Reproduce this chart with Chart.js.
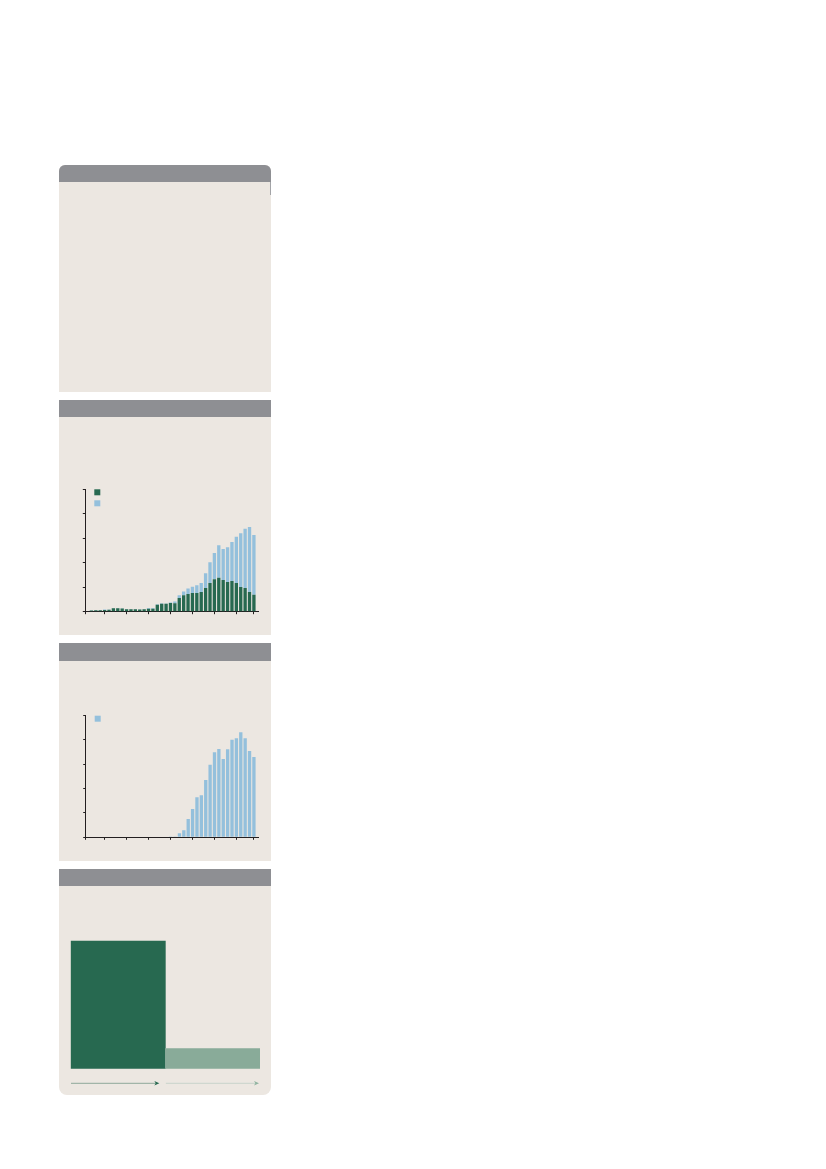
<!DOCTYPE html>
<html>
<head>
<meta charset="utf-8">
<script src="https://cdn.jsdelivr.net/npm/chart.js@4.4.1/dist/chart.umd.min.js"></script>
<style>
html,body{margin:0;padding:0;background:#ffffff;}
body{width:826px;height:1169px;position:relative;overflow:hidden;font-family:"Noto Sans",sans-serif;}
.panel{position:absolute;left:59px;width:212px;background:#ece7e1;overflow:hidden;}
.head{position:absolute;left:0;top:0;width:100%;height:17.3px;background:#8e8f93;}
.box{position:absolute;}
.box canvas{display:block;}
</style>
</head>
<body>
<div class="panel" style="top:165px;height:226.7px;border-radius:6px 6px 0 0;"><div class="head"></div></div>
<div style="position:absolute;left:270px;top:182px;width:1.3px;height:13px;background:#a3a4a7;"></div>
<div class="panel" style="top:400px;height:235px;"><div class="head"></div></div>
<div class="panel" style="top:643.3px;height:217.4px;"><div class="head"></div></div>
<div class="panel" style="top:869px;height:226px;border-radius:0 0 8px 8px;"><div class="head"></div></div>

<div class="box" style="left:59px;top:417px;width:212px;height:218px;"><canvas id="c1"></canvas></div>
<div class="box" style="left:59px;top:661px;width:212px;height:200px;"><canvas id="c2"></canvas></div>
<div class="box" style="left:59px;top:886px;width:212px;height:209px;"><canvas id="c3"></canvas></div>

<script>
// ---------- DATA ----------
const years = [1977,1978,1979,1980,1981,1982,1983,1984,1985,1986,1987,1988,1989,1990,1991,1992,1993,1994,1995,1996,1997,1998,1999,2000,2001,2002,2003,2004,2005,2006,2007,2008,2009,2010,2011,2012,2013,2014];
const tickYears = [1980,1985,1990,1995,2000,2005,2010,2014];

// chart 1: two stacked series
const chart1Green = [2.5,3,3,3.5,4,7,7,6.5,5,5,5,4.5,5,6,6,14,16,16,18,17.5,28,33.5,36,38,38,40,48.5,58.5,66.5,69.5,64.5,60.5,62.5,58.5,50.5,48.5,40,34.5];
const chart1Blue  = [0.5,0.5,0.5,1,0.5,0.5,0.5,0.5,0.5,0.5,0.5,0.5,0.5,1.5,1.5,1,1.5,1,1,3.5,5.5,8,11.5,13,16,18.5,30,42.5,53.5,66,63.5,71,80,94.5,109.5,121,133,122];

// chart 2: one series
const chart2Blue = [0,0,0,0,0,0,0,0,0,0,0,0,0,0,0,0,0,0,1.4,1.4,8.2,14.3,37.6,58.1,82,86,117.5,148.9,174.2,181,160.5,180.3,200.1,202.9,215.1,202.9,177,164.6];

const yTicksMax = 250;
const yTicksStep = 50;

// chart 3: two blocks
const chart3Categories = ['A','B'];
const chart3Values = [100, 15.7];

// ---------- STYLE ----------
const GREEN = '#276950';
const BLUE = '#94c0dc';
const AXIS = '#231f20';

const legendKeys = {
  id: 'legendKeys',
  afterDraw(chart, args, opts) {
    const ctx = chart.ctx;
    const {left, top} = chart.chartArea;
    ctx.save();
    chart.data.datasets.forEach((ds, i) => {
      ctx.fillStyle = ds.backgroundColor;
      ctx.fillRect(left + opts.dx, top + opts.dy + i * opts.step, opts.size, opts.size);
    });
    ctx.restore();
  }
};

const arrows = {
  id: 'arrows',
  afterDatasetsDraw(chart, args, opts) {
    const ctx = chart.ctx;
    const meta = chart.getDatasetMeta(0);
    const y = chart.chartArea.bottom + opts.offset;
    ctx.save();
    meta.data.forEach((bar, i) => {
      const x0 = bar.x - bar.width / 2 + opts.startInset[i];
      const x1 = bar.x + bar.width / 2 - opts.endInset[i];
      ctx.strokeStyle = opts.lineColors[i];
      ctx.lineWidth = 1;
      ctx.beginPath();
      ctx.moveTo(x0, y);
      ctx.lineTo(x1 - 3, y);
      ctx.stroke();
      ctx.fillStyle = opts.headColors[i];
      ctx.beginPath();
      ctx.moveTo(x1, y);
      ctx.lineTo(x1 - 5, y - 2.3);
      ctx.lineTo(x1 - 3.6, y);
      ctx.lineTo(x1 - 5, y + 2.3);
      ctx.closePath();
      ctx.fill();
    });
    ctx.restore();
  }
};

function toPoints(vals) { return years.map((yr, i) => ({x: yr, y: vals[i]})); }

function timeAxes() {
  return {
    x: {
      type: 'linear', min: 1975.6, max: 2015, offset: false, stacked: true,
      grid: { display: true, drawOnChartArea: false, drawTicks: true, tickLength: 2.5, tickColor: AXIS, offset: false, lineWidth: 1 },
      border: { display: true, color: AXIS, width: 1 },
      ticks: { display: false },
      afterBuildTicks: (s) => { s.ticks = [s.min, ...tickYears].map(v => ({value: v})); }
    },
    y: {
      min: 0, max: yTicksMax, stacked: true,
      grid: { display: true, drawOnChartArea: false, drawTicks: true, tickLength: 2.5, tickColor: AXIS, lineWidth: 1 },
      border: { display: true, color: AXIS, width: 1 },
      ticks: { display: false, stepSize: yTicksStep }
    }
  };
}

const common = {
  responsive: true, maintainAspectRatio: false, animation: false,
  events: [],
  plugins: { legend: { display: false }, tooltip: { enabled: false } }
};

new Chart(document.getElementById('c1'), {
  type: 'bar',
  data: {
    datasets: [
      { label: 'Series A', data: toPoints(chart1Green), backgroundColor: GREEN, borderWidth: 0, barPercentage: 0.76, categoryPercentage: 1 },
      { label: 'Series B', data: toPoints(chart1Blue), backgroundColor: BLUE, borderWidth: 0, barPercentage: 0.76, categoryPercentage: 1 }
    ]
  },
  options: Object.assign({}, common, {
    layout: { padding: { left: 23.8, top: 72.3, right: 12.7, bottom: 20.8 } },
    scales: timeAxes(),
    plugins: Object.assign({}, common.plugins, { legendKeys: { dx: 9, dy: 0, step: 11, size: 6 } })
  }),
  plugins: [legendKeys]
});

new Chart(document.getElementById('c2'), {
  type: 'bar',
  data: {
    datasets: [
      { label: 'Series B', data: toPoints(chart2Blue), backgroundColor: BLUE, borderWidth: 0, barPercentage: 0.76, categoryPercentage: 1 }
    ]
  },
  options: Object.assign({}, common, {
    layout: { padding: { left: 24.2, top: 54.3, right: 12.7, bottom: 21.2 } },
    scales: timeAxes(),
    plugins: Object.assign({}, common.plugins, { legendKeys: { dx: 9, dy: 0.4, step: 11, size: 6 } })
  }),
  plugins: [legendKeys]
});

new Chart(document.getElementById('c3'), {
  type: 'bar',
  data: {
    labels: chart3Categories,
    datasets: [
      { data: chart3Values, backgroundColor: [GREEN, '#89ab99'], borderWidth: 0, barPercentage: 1, categoryPercentage: 1 }
    ]
  },
  options: Object.assign({}, common, {
    layout: { padding: { left: 11.7, top: 29.5, right: 11, bottom: 26.3 } },
    scales: {
      x: { display: false, offset: true },
      y: { display: false, min: 0, max: 120 }
    },
    plugins: Object.assign({}, common.plugins, {
      arrows: { offset: 14.6, startInset: [0.3, 0.5], endInset: [6, 1],
                lineColors: ['#8fa99a', '#c8d4cb'], headColors: [GREEN, '#8fb3a0'] }
    })
  }),
  plugins: [arrows]
});
</script>
</body>
</html>
